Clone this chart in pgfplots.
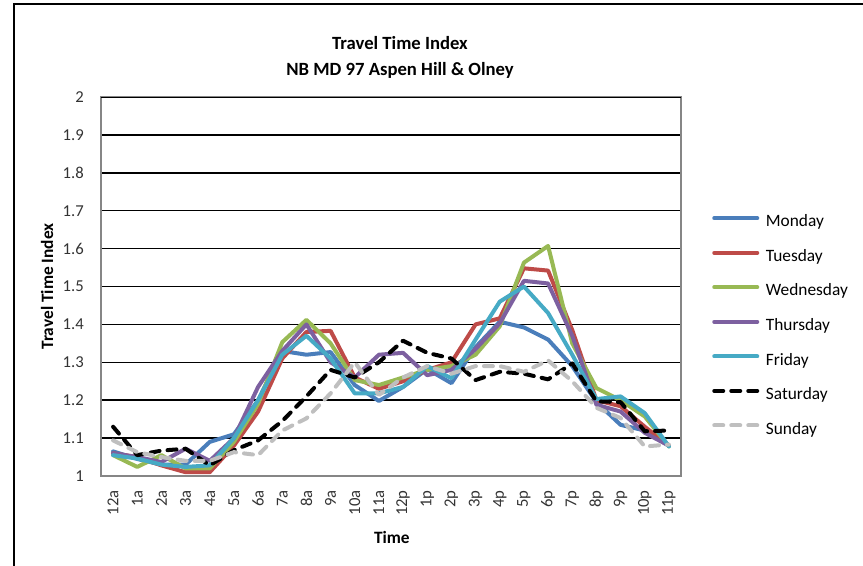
\documentclass[border=0pt]{standalone}
\usepackage{fontspec}
\setmainfont{Carlito}
\usepackage{pgfplots}
\pgfplotsset{compat=1.18}

\definecolor{mon}{HTML}{4A7EBB}
\definecolor{tue}{HTML}{BE4B48}
\definecolor{wed}{HTML}{98B954}
\definecolor{thu}{HTML}{7D60A0}
\definecolor{fri}{HTML}{46AAC5}
\definecolor{sun}{HTML}{BFBFBF}
\definecolor{axgray}{HTML}{868686}

% hour (0 = 12a ... 23 = 11p) vs travel time index
\pgfplotstableread{
h   mon    tue    wed    thu    fri    sat    sun
0   1.065  1.060  1.055  1.060  1.055  1.130  1.094
1   1.045  1.050  1.024  1.050  1.046  1.055  1.063
2   1.030  1.028  1.055  1.037  1.030  1.067  1.050
3   1.030  1.010  1.020  1.072  1.024  1.072  1.040
4   1.090  1.010  1.020  1.040  1.028  1.028  1.040
5   1.110  1.080  1.090  1.100  1.100  1.068  1.063
6   1.200  1.170  1.190  1.235  1.200  1.094  1.055
7   1.330  1.310  1.353  1.330  1.320  1.145  1.120
8   1.320  1.380  1.412  1.400  1.370  1.210  1.152
9   1.327  1.383  1.350  1.300  1.310  1.280  1.218
10  1.240  1.260  1.253  1.260  1.218  1.260  1.300
11  1.198  1.230  1.240  1.320  1.218  1.300  1.214
12  1.235  1.250  1.260  1.325  1.235  1.357  1.260
13  1.282  1.280  1.280  1.266  1.290  1.325  1.290
14  1.245  1.300  1.290  1.280  1.258  1.310  1.270
15  1.340  1.400  1.320  1.335  1.360  1.253  1.290
16  1.407  1.416  1.395  1.403  1.460  1.275  1.290
17  1.392  1.548  1.563  1.515  1.500  1.270  1.275
18  1.360  1.542  1.607  1.508  1.430  1.255  1.305
19  1.290  1.385  1.350  1.370  1.320  1.297  1.250
20  1.195  1.200  1.232  1.188  1.203  1.197  1.180
21  1.135  1.184  1.200  1.170  1.210  1.195  1.153
22  1.120  1.130  1.157  1.114  1.166  1.118  1.078
23  1.080  1.080  1.078  1.080  1.078  1.120  1.083
}\tti

\begin{document}
\begin{tikzpicture}
\useasboundingbox (-75.75pt,-66.75pt) rectangle (571.5pt,357pt);
\draw[black, line width=1.5pt] (-65.25pt,-70pt) -- (-65.25pt,354pt) -- (575pt,354pt);
\node[font=\fontsize{14}{16}\selectfont\bfseries] at (224.25pt,324.75pt) {Travel Time Index};
\node[font=\fontsize{14}{16}\selectfont\bfseries] at (224.25pt,304.5pt) {NB MD 97 Aspen Hill \& Olney};
\begin{axis}[
  at={(0pt,0pt)}, anchor=south west,
  scale only axis, width=435pt, height=284.25pt,
  xmin=-0.5, xmax=23.5, ymin=1, ymax=2,
  xtick={0,...,23},
  xticklabels={12a,1a,2a,3a,4a,5a,6a,7a,8a,9a,10a,11a,12p,1p,2p,3p,4p,5p,6p,7p,8p,9p,10p,11p},
  ytick={1,1.1,1.2,1.3,1.4,1.5,1.6,1.7,1.8,1.9,2},
  yticklabels={1,1.1,1.2,1.3,1.4,1.5,1.6,1.7,1.8,1.9,2},
  major tick length=0pt,
  ymajorgrids, major grid style={black, line width=1.1pt},
  axis line style={axgray, line width=1pt},
  tick label style={font=\fontsize{12.5}{14}\selectfont, text=black!80, inner sep=0pt},
  yticklabel style={anchor=east, xshift=-12.75pt},
  xticklabel style={yshift=-10.5pt, rotate=90, anchor=east},
  xlabel={Time}, ylabel={Travel Time Index},
  every axis x label/.style={at={(axis description cs:0.5015,-0.161)}, anchor=center,
    font=\fontsize{13}{15}\selectfont\bfseries},
  every axis y label/.style={at={(axis description cs:-0.0931,0.5)}, anchor=center, rotate=90,
    font=\fontsize{13}{15}\selectfont\bfseries},
  legend style={draw=none, fill=none, inner sep=0pt, at={(1.0534,0.6896)}, anchor=north west,
    font=\fontsize{13}{15}\selectfont, row sep=13.9pt, column sep=5pt,
    nodes={inner sep=0pt, text height=9pt, text depth=3pt}},
  legend cell align=left,
  legend image code/.code={\draw[#1] (0pt,3.5pt) -- (32.25pt,3.5pt);},
  every axis plot/.append style={line width=3pt, line join=round, line cap=round},
]
\addplot[mon] table[x=h, y=mon] {\tti};
\addlegendentry{Monday}
\addplot[tue] table[x=h, y=tue] {\tti};
\addlegendentry{Tuesday}
\addplot[wed] table[x=h, y=wed] {\tti};
\addlegendentry{Wednesday}
\addplot[thu] table[x=h, y=thu] {\tti};
\addlegendentry{Thursday}
\addplot[fri] table[x=h, y=fri] {\tti};
\addlegendentry{Friday}
\addplot[black, dash pattern=on 6.75pt off 6pt] table[x=h, y=sat] {\tti};
\addlegendentry{Saturday}
\addplot[sun, dash pattern=on 6.75pt off 6pt] table[x=h, y=sun] {\tti};
\addlegendentry{Sunday}
\draw[black, line width=1.1pt] (rel axis cs:0,1) -- (rel axis cs:1,1);
\end{axis}
\end{tikzpicture}
\end{document}
